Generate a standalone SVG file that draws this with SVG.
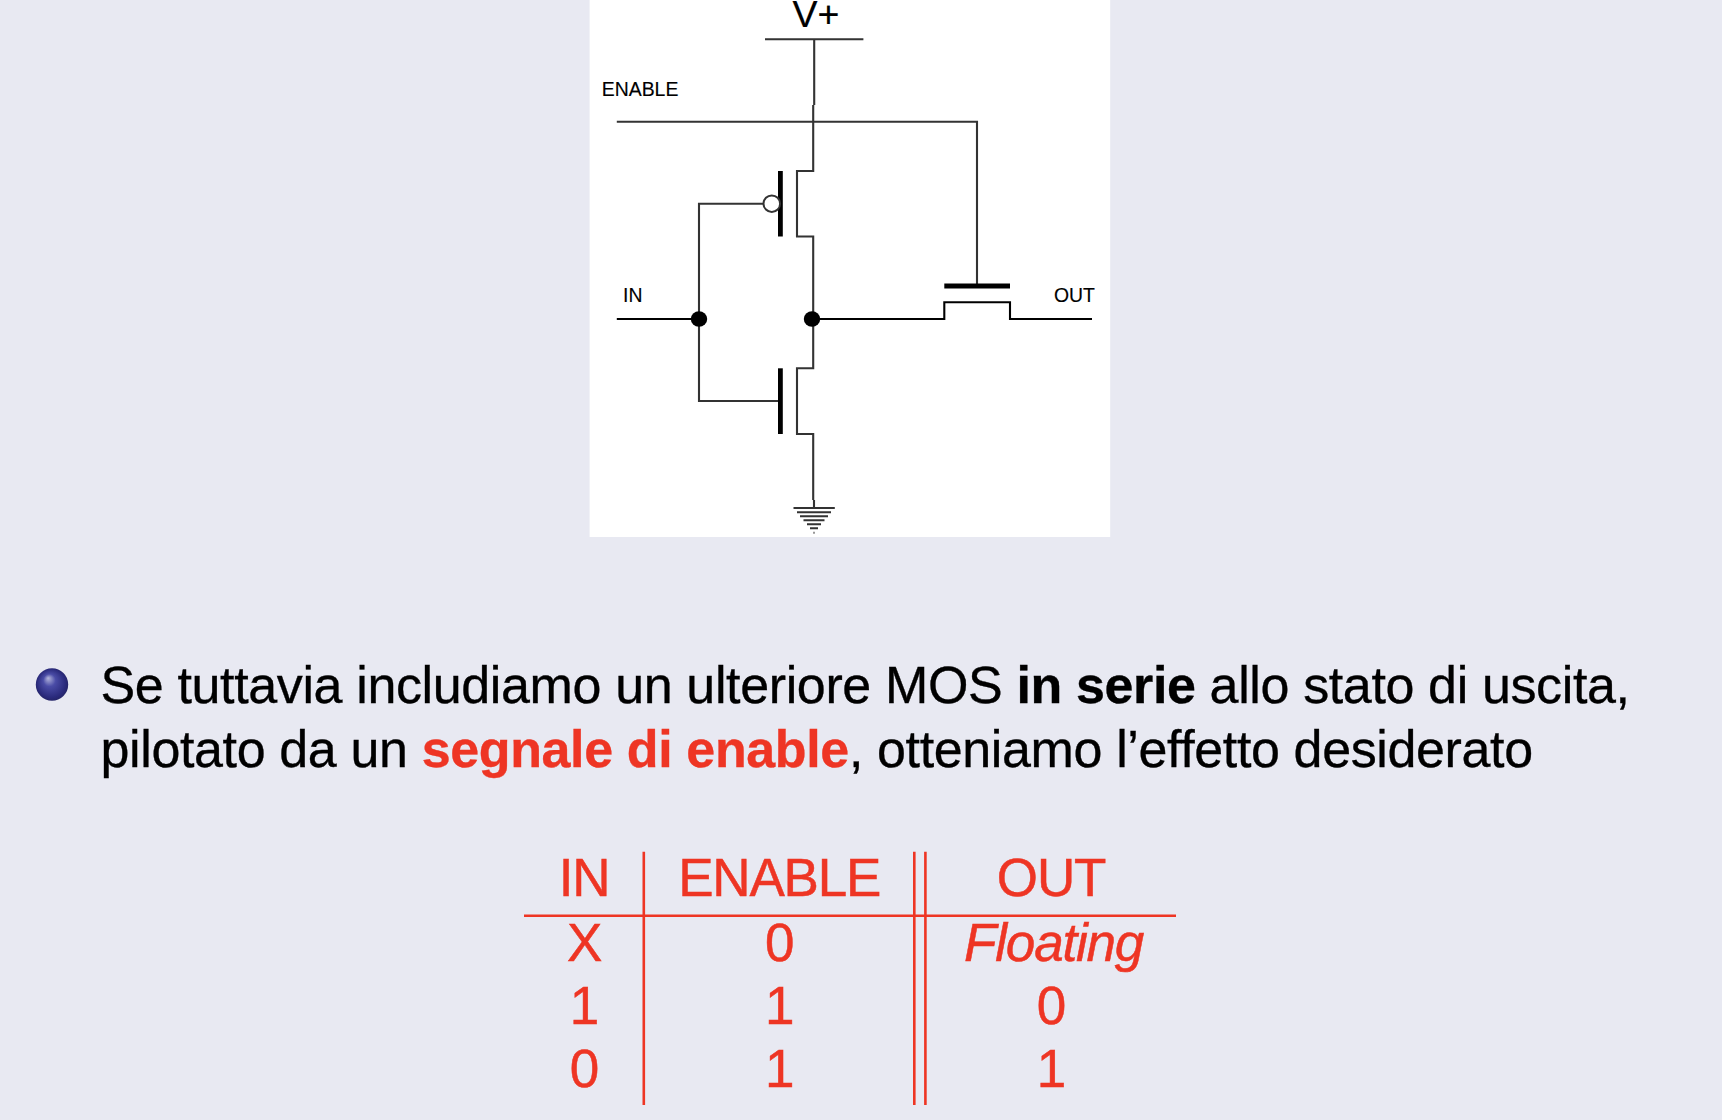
<svg xmlns="http://www.w3.org/2000/svg" width="1722" height="1120" viewBox="0 0 1722 1120">
<style>
.w{fill:none;stroke:#333;stroke-width:2.1}
.b{fill:none;stroke:#000;stroke-width:4.8}
.l{font-family:"Liberation Sans",Arial,sans-serif;font-size:19.4px;fill:#000;stroke:#000;stroke-width:.15}
.m{font-family:"Liberation Sans",Arial,sans-serif;font-size:52px;fill:#000;letter-spacing:-.37px;stroke:#000;stroke-width:.35}
.a{fill:#ee3524;stroke:#ee3524}
.r{font-family:"Liberation Sans",Arial,sans-serif;font-size:53px;fill:#ee3524;stroke:#ee3524;stroke-width:.5;text-anchor:middle;letter-spacing:-1.2px}
.t{stroke:#ee3524;stroke-width:2.6;fill:none}
</style>
<defs><radialGradient id="ball" cx=".5" cy=".5" r=".55" fx=".38" fy=".3">
<stop offset="0" stop-color="#b4b6dc"/><stop offset=".35" stop-color="#4a4ca6"/><stop offset=".8" stop-color="#2a2a7c"/><stop offset="1" stop-color="#22225f"/></radialGradient></defs>
<rect width="1722" height="1120" fill="#e8e9f2"/>
<rect x="589.6" y="0" width="520.6" height="537" fill="#fff"/>
<g id="connectors">
<path class="w" d="M765 39.3H863.4M814.2 39.3V105"/>
<path class="w" d="M813.2 105V171H797V236.5H813.2V368.3H797V434H813.2V500M814 500V508"/>
<path class="w" d="M616.8 121.7H977V286"/>
<path class="w" d="M699 319V203.7H764M699 319V401H778"/>
<path class="w" style="stroke:#000" d="M616.8 319H699M812 319H944.3V302.3H1010V319H1092"/>
</g>
<g id="vplus"><text x="792.5" y="26.8" font-family="Liberation Sans" font-size="37.5" stroke="#000" stroke-width=".2">V+</text></g>
<g id="label-enable"><text class="l" x="601.8" y="96">ENABLE</text></g>
<g id="label-in"><text class="l" x="623" y="302">IN</text></g>
<g id="label-out"><text class="l" x="1054" y="302">OUT</text></g>
<g id="pmos"><path class="b" d="M780.4 171V236.5"/><circle cx="771.8" cy="203.7" r="8.3" fill="#fff" stroke="#333" stroke-width="2"/></g>
<g id="nmos"><path class="b" d="M780.4 368.3V434"/></g>
<g id="pass"><path class="b" d="M944.3 286H1010"/></g>
<g id="node-in"><ellipse cx="699" cy="319" rx="8.2" ry="7.8"/></g>
<g id="node-out"><ellipse cx="812" cy="319" rx="8.2" ry="7.8"/></g>
<g id="ground"><path fill="none" stroke="#333" stroke-width="2" d="M793.5 508H834.8M797 512.3H831M800 516.3H828M803.5 520.3H824.5M807 524.3H821M810 528.3H818M813.5 532.7H814.5"/></g>
<g id="bullet"><circle cx="52" cy="684.5" r="16.2" fill="url(#ball)"/></g>
<g id="text">
<text class="m" x="100.5" y="703.3">Se tuttavia includiamo un ulteriore MOS <tspan font-weight="700">in serie</tspan> allo stato di uscita,</text>
<text class="m" x="100.5" y="766.7">pilotato da un <tspan font-weight="700" class="a">segnale di enable</tspan>, otteniamo l’effetto desiderato</text>
</g>
<g id="table">
<path class="t" d="M643.8 851.7V1105M914.3 851.7V1105M925.4 851.7V1105M524 915.7H1176"/>
<text class="r" x="584" y="895.7">IN</text><text class="r" x="779.2" y="895.7">ENABLE</text><text class="r" x="1051" y="895.7">OUT</text>
<text class="r" x="584" y="961">X</text><text class="r" x="779.2" y="961">0</text><text class="r" x="1053.6" y="961" font-style="italic">Floating</text>
<text class="r" x="584" y="1023.5">1</text><text class="r" x="779.2" y="1023.5">1</text><text class="r" x="1051" y="1023.5">0</text>
<text class="r" x="584" y="1086.5">0</text><text class="r" x="779.2" y="1086.5">1</text><text class="r" x="1051" y="1086.5">1</text>
</g>
</svg>
